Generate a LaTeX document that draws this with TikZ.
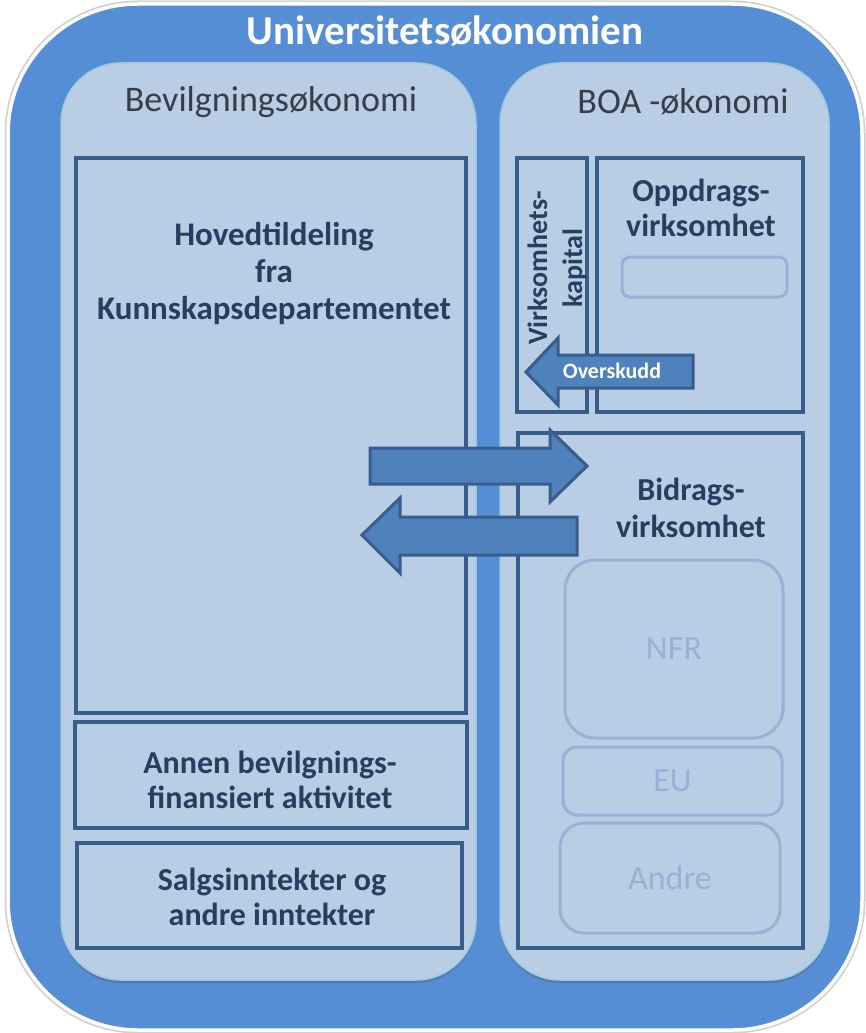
\documentclass[tikz,border=0pt]{standalone}
\usepackage{fontspec}
\setmainfont{Carlito}
\usetikzlibrary{shadows}
\definecolor{outerblue}{HTML}{558ED5}
\definecolor{panelfill}{HTML}{B9CDE5}
\definecolor{boxline}{HTML}{385D8A}
\definecolor{darktext}{HTML}{243F60}
\definecolor{graytext}{HTML}{383D48}
\definecolor{lightline}{HTML}{95B3D7}
\definecolor{arrowfill}{HTML}{4F81BD}
\definecolor{panelline}{HTML}{9CCBE0}
\tikzset{
  panel/.style={draw=panelline, line width=1.5pt, fill=panelfill, rounded corners=60pt,
    inner sep=0pt, outer sep=0pt,
    drop shadow={shadow xshift=0pt, shadow yshift=-3pt, opacity=0.3, fill=black!70}},
  framebox/.style={draw=boxline, line width=3.5pt, inner sep=0pt, outer sep=0pt},
  softbox/.style={draw=lightline, line width=3pt, inner sep=0pt, outer sep=0pt},
  boldtxt/.style={text=darktext, font=\bfseries\fontsize{33}{37}\selectfont, align=center, inner sep=0pt},
  softtxt/.style={text=lightline, font=\fontsize{34}{40}\selectfont, inner sep=0pt},
  paneltitle/.style={text=graytext, font=\fontsize{36}{42}\selectfont, inner sep=0pt},
  blockarrow/.style={fill=arrowfill, draw=boxline, line width=3pt, line join=miter}
}
\begin{document}
\begin{tikzpicture}[x=1pt,y=-1pt]
\useasboundingbox (0,0) rectangle (865,1033);
\fill[white] (0,0) rectangle (865,1033);
% outer shape
\draw[black!18, line width=7pt, rounded corners=130pt] (8,4) rectangle (862,1030);
\draw[white, line width=3.5pt, fill=outerblue, rounded corners=130pt] (8,4) rectangle (862,1030);
\node[text=white, font=\bfseries\fontsize{41}{46}\selectfont, inner sep=0pt] (title) at (445,31) {Universitetsøkonomien};
% panels
\node[panel, minimum width=415pt, minimum height=917pt] (lpanel) at (268.5,521.5) {};
\node[panel, minimum width=329pt, minimum height=917pt] (rpanel) at (664.5,521.5) {};
\node[paneltitle] (ltitle) at (271,102) {Bevilgningsøkonomi};
\node[paneltitle] (rtitle) at (683,102) {BOA -økonomi};
% left boxes
\node[framebox, minimum width=390pt, minimum height=555pt] (hoved) at (271,435.5) {};
\node[framebox, minimum width=392pt, minimum height=106pt] (annen) at (271,775) {};
\node[framebox, minimum width=385pt, minimum height=105pt] (salgs) at (269.5,895.5) {};
\node[boldtxt] (hovedtxt) at (274,273) {Hovedtildeling\\fra\\Kunnskapsdepartementet};
\node[boldtxt, font=\bfseries\fontsize{32}{35}\selectfont] (annentxt) at (270,780) {Annen bevilgnings-\\finansiert aktivitet};
\node[boldtxt, font=\bfseries\fontsize{32}{35}\selectfont] (salgstxt) at (272,897) {Salgsinntekter og\\andre inntekter};
% right boxes
\node[framebox, minimum width=70pt, minimum height=254pt] (virk) at (552,285) {};
\node[framebox, minimum width=206pt, minimum height=254pt] (oppd) at (700,285) {};
\node[softbox, rounded corners=8pt, minimum width=165pt, minimum height=40pt] (oppdsub) at (704.5,277) {};
\node[boldtxt, font=\bfseries\fontsize{32}{35}\selectfont] (oppdtxt) at (701,208) {Oppdrags-\\virksomhet};
\node[boldtxt, font=\bfseries\fontsize{28}{35}\selectfont, rotate=90] (virktxt) at (557,268) {Virksomhets-\\kapital};
\node[framebox, minimum width=285pt, minimum height=515pt] (bidrag) at (660.5,690.5) {};
\node[boldtxt, font=\bfseries\fontsize{32}{37}\selectfont] (bidragtxt) at (691,508) {Bidrags-\\virksomhet};
\node[softbox, rounded corners=30pt, minimum width=218pt, minimum height=178pt] (nfr) at (674,649) {};
\node[softbox, rounded corners=14pt, minimum width=219pt, minimum height=68pt] (eu) at (672.5,781) {};
\node[softbox, rounded corners=24pt, minimum width=220pt, minimum height=110pt] (andre) at (670,878) {};
\node[softtxt] (nfrtxt) at (nfr.center) {NFR};
\node[softtxt] (eutxt) at (eu.center) {EU};
\node[softtxt] (andretxt) at (andre.center) {Andre};
% block arrows
\draw[blockarrow] (370,448) -- (550,448) -- (550,430) -- (587,466) -- (550,502) -- (550,484) -- (370,484) -- cycle;
\draw[blockarrow] (577,517) -- (400,517) -- (400,498) -- (362,535) -- (400,573) -- (400,555) -- (577,555) -- cycle;
\draw[blockarrow] (693,355) -- (558,355) -- (558,338) -- (526,372) -- (558,405) -- (558,388) -- (693,388) -- cycle;
\node[text=white, font=\bfseries\fontsize{22}{24}\selectfont, inner sep=0pt] (overtxt) at (612,371) {Overskudd};
\end{tikzpicture}
\end{document}
